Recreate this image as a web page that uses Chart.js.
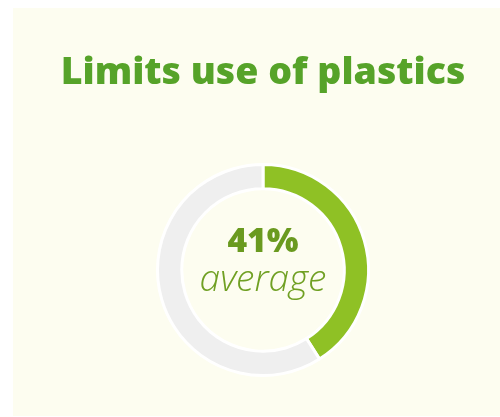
<!DOCTYPE html>
<html>
<head>
<meta charset="utf-8">
<script src="https://cdn.jsdelivr.net/npm/chart.js@4/dist/chart.umd.min.js"></script>
<style>
  html, body { margin: 0; padding: 0; background: #ffffff; }
  #wrap { position: relative; width: 500px; height: 417px; overflow: hidden; }
  #card { position: absolute; left: 13px; top: 8px; width: 487px; height: 408px; background: #fdfdf0; }
  #c { position: absolute; left: 26px; top: 0; display: block; }
</style>
</head>
<body>
<div id="wrap">
  <div id="card"></div>
  <canvas id="c" width="474" height="417"></canvas>
</div>
<script>
// Share of respondents who limit their use of plastics
const categories = ['Limits use of plastics', 'Other'];
const values = [41, 59];
const titleText = 'Limits use of plastics';
const centerValue = '41%';
const centerLabel = 'average';

// pick a font size so that a string spans the wanted width
const measureCtx = document.createElement('canvas').getContext('2d');
function fitSize(text, style, family, width, base) {
  measureCtx.font = style + ' ' + base + 'px ' + family;
  const w = measureCtx.measureText(text).width;
  return Math.round(base * width / w * 10) / 10;
}
const textFamily = '"Open Sans", sans-serif';
const titleSize = fitSize(titleText, '800', textFamily, 405, 34);
const valueSize = fitSize(centerValue, '800', textFamily, 71, 36);
const labelSize = fitSize(centerLabel, 'italic 300', textFamily, 127, 30);

// value and caption in the hole of the ring
const centerText = {
  id: 'centerText',
  afterDraw(chart) {
    const arc = chart.getDatasetMeta(0).data[0];
    if (!arc) return;
    const ctx = chart.ctx;
    ctx.save();
    ctx.textAlign = 'center';
    ctx.textBaseline = 'alphabetic';
    ctx.fillStyle = '#6a9a1f';
    ctx.font = '800 ' + valueSize + 'px ' + textFamily;
    ctx.fillText(centerValue, arc.x, arc.y - 18);
    ctx.fillStyle = '#70a023';
    ctx.font = 'italic 300 ' + labelSize + 'px ' + textFamily;
    ctx.fillText(centerLabel, arc.x, arc.y + 21);
    ctx.restore();
  }
};

new Chart(document.getElementById('c'), {
  type: 'doughnut',
  data: {
    labels: categories,
    datasets: [{
      data: values,
      backgroundColor: ['#8fc125', '#efefef'],
      borderColor: '#ffffff',
      borderWidth: 3,
      hoverOffset: 0
    }]
  },
  options: {
    responsive: false,
    animation: false,
    cutout: '77%',
    layout: { padding: { left: 0, right: 0, top: 0, bottom: 40 } },
    plugins: {
      legend: { display: false },
      tooltip: { enabled: false },
      title: {
        display: true,
        text: titleText,
        color: '#56a329',
        font: { family: textFamily, weight: '800', size: titleSize },
        padding: { top: 51, bottom: 67 },
        fullSize: true
      }
    }
  },
  plugins: [centerText]
});
</script>
</body>
</html>
